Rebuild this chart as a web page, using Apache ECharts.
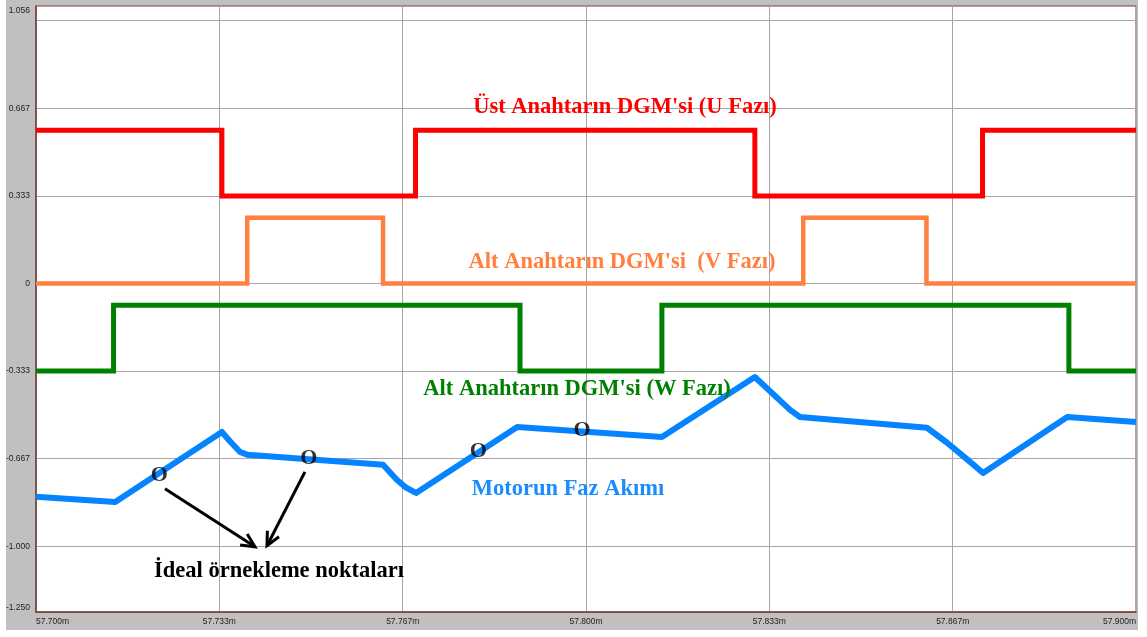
<!DOCTYPE html>
<html>
<head>
<meta charset="utf-8">
<script src="https://cdn.jsdelivr.net/npm/echarts@6/dist/echarts.min.js"></script>
<style>
  html, body { margin: 0; padding: 0; background: #ffffff; }
  #panel { position: absolute; left: 6px; top: 0; width: 1132px; height: 630px; background: #c0c0c0; }
  #chart { position: absolute; left: 0; top: 0; width: 1147px; height: 637px; }
</style>
</head>
<body>
<div id="panel"></div>
<div id="chart"></div>
<script>
// Time axis (ms) and level axis
const xTicks = [57.7, 57.7 + 1 / 30, 57.7 + 2 / 30, 57.8, 57.8 + 1 / 30, 57.8 + 2 / 30, 57.9];
const yGrid = [-1, -2 / 3, -1 / 3, 0, 1 / 3, 2 / 3, 1];
const yLabels = [-1.25, -1, -2 / 3, -1 / 3, 0, 1 / 3, 2 / 3, 1.056];

// Upper switch PWM, U phase (edge times and levels)
const uTimes  = [57.7000, 57.7338, 57.7690, 57.8307, 57.8721, 57.9000];
const uLevels = [0.583, 0.333, 0.583, 0.333, 0.583, 0.583];

// Lower switch PWM, V phase
const vTimes  = [57.7000, 57.7384, 57.7631, 57.8395, 57.8619, 57.9000];
const vLevels = [0, 0.25, 0, 0.25, 0, 0];

// Lower switch PWM, W phase
const wTimes  = [57.7000, 57.7141, 57.7880, 57.8138, 57.8878, 57.9000];
const wLevels = [-0.333, -0.083, -0.333, -0.083, -0.333, -0.333];

// Motor phase current
const iTimes  = [57.7000, 57.7144, 57.7338, 57.7353, 57.7371, 57.7385, 57.7631, 57.7656, 57.7673, 57.7691,
                 57.7875, 57.8138, 57.8307, 57.8371, 57.8389, 57.8620, 57.8656, 57.8693, 57.8722, 57.8875, 57.9000];
const iValues = [-0.811, -0.831, -0.565, -0.601, -0.641, -0.652, -0.690, -0.747, -0.777, -0.797,
                 -0.546, -0.584, -0.356, -0.481, -0.508, -0.549, -0.605, -0.669, -0.721, -0.508, -0.527];

// Ideal sampling points marked with "O"
const sampleTimes  = [57.7224, 57.7496, 57.7804, 57.7993];
const sampleValues = [-0.728, -0.667, -0.637, -0.557];

// Arrows pointing from the sampling points to their caption [x0, y0, x1, y1]
const arrows = [
  [57.72345, -0.781, 57.73982, -1.002],
  [57.74890, -0.717, 57.74200, -0.998]
];

const zip = (a, b) => a.map((v, i) => [v, b[i]]);
const borderColor = '#7a3e3e';
const gridColor = '#a6a6a6';
const serif = '"Liberation Serif", "Times New Roman", serif';

const chart = echarts.init(document.getElementById('chart'), null, { renderer: 'canvas' });

function stepSeries(name, data, color, width) {
  return {
    name, type: 'line', step: 'end', data, symbol: 'none', animation: false,
    lineStyle: { color, width, join: 'miter', cap: 'butt' }, z: 3
  };
}

chart.setOption({
  backgroundColor: 'transparent',
  animation: false,
  grid: {
    left: 36, top: 6, width: 1100, height: 606,
    show: true, backgroundColor: '#ffffff', borderColor: borderColor, borderWidth: 1
  },
  xAxis: {
    type: 'value', min: 57.7, max: 57.9,
    axisLine: { show: true, onZero: false, lineStyle: { color: borderColor, width: 1.5 } },
    axisTick: { show: false, customValues: xTicks },
    splitLine: { show: true, lineStyle: { color: gridColor, width: 1 } },
    axisLabel: {
      customValues: xTicks, margin: 5,
      fontFamily: '"Liberation Sans", Arial, sans-serif', fontSize: 8.5, color: '#222',
      alignMinLabel: 'left', alignMaxLabel: 'right',
      formatter: v => v.toFixed(3) + 'm'
    }
  },
  yAxis: {
    type: 'value', min: -1.25, max: 1.056,
    axisLine: { show: true, onZero: false, lineStyle: { color: borderColor, width: 1.5 } },
    axisTick: { show: false, customValues: yGrid },
    splitLine: { show: true, lineStyle: { color: gridColor, width: 1 } },
    axisLabel: {
      customValues: yLabels, margin: 6,
      fontFamily: '"Liberation Sans", Arial, sans-serif', fontSize: 8.5, color: '#222',
      verticalAlignMinLabel: 'bottom', verticalAlignMaxLabel: 'top',
      formatter: v => (Math.abs(v) < 1e-9 ? '0' : v.toFixed(3))
    }
  },
  series: [
    stepSeries('U', zip(uTimes, uLevels), '#ff0000', 5),
    stepSeries('V', zip(vTimes, vLevels), '#ff8040', 4.5),
    stepSeries('W', zip(wTimes, wLevels), '#008000', 5),
    {
      name: 'I', type: 'line', data: zip(iTimes, iValues), symbol: 'none',
      lineStyle: { color: '#0683ff', width: 6, join: 'round' }, z: 4
    },
    {
      name: 'samples', type: 'scatter', data: zip(sampleTimes, sampleValues),
      symbol: 'circle', symbolSize: 1, itemStyle: { color: 'transparent' }, z: 6,
      label: {
        show: true, position: 'inside', formatter: 'O',
        fontFamily: serif, fontWeight: 'bold', fontSize: 22, color: '#000'
      }
    },
    {
      name: 'arrows', type: 'custom', data: arrows, z: 6, silent: true,
      renderItem: (params, api) => {
        const p0 = api.coord([api.value(0), api.value(1)]);
        const p1 = api.coord([api.value(2), api.value(3)]);
        const ang = Math.atan2(p1[1] - p0[1], p1[0] - p0[0]);
        const len = 15, spread = 0.45;
        const h1 = [p1[0] - len * Math.cos(ang - spread), p1[1] - len * Math.sin(ang - spread)];
        const h2 = [p1[0] - len * Math.cos(ang + spread), p1[1] - len * Math.sin(ang + spread)];
        const st = { stroke: '#000', lineWidth: 3, fill: null, lineJoin: 'miter' };
        return {
          type: 'group',
          children: [
            { type: 'polyline', shape: { points: [p0, p1] }, style: st },
            { type: 'polyline', shape: { points: [h1, p1, h2] }, style: st }
          ]
        };
      }
    }
  ],
  graphic: [
    { type: 'text', x: 625, y: 107, z: 10, style: { text: "Üst Anahtarın DGM'si (U Fazı)", font: 'bold 22.5px ' + serif, fill: '#ff0000', align: 'center', verticalAlign: 'middle' } },
    { type: 'text', x: 622, y: 262, z: 10, style: { text: "Alt Anahtarın DGM'si  (V Fazı)", font: 'bold 22.5px ' + serif, fill: '#ff8040', align: 'center', verticalAlign: 'middle' } },
    { type: 'text', x: 577, y: 389, z: 10, style: { text: "Alt Anahtarın DGM'si (W Fazı)", font: 'bold 22.5px ' + serif, fill: '#008000', align: 'center', verticalAlign: 'middle' } },
    { type: 'text', x: 568, y: 489, z: 10, style: { text: 'Motorun Faz Akımı', font: 'bold 22.5px ' + serif, fill: '#1a8cff', align: 'center', verticalAlign: 'middle' } },
    { type: 'text', x: 279, y: 571, z: 10, style: { text: 'İdeal örnekleme noktaları', font: 'bold 22.5px ' + serif, fill: '#000000', align: 'center', verticalAlign: 'middle' } }
  ]
});
</script>
</body>
</html>
